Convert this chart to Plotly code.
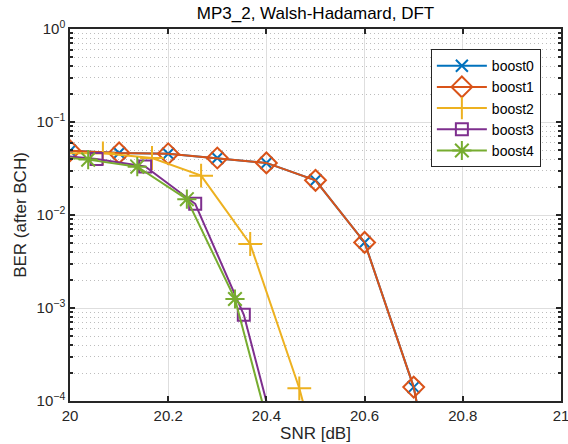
import plotly.graph_objects as go

# ---- data ----
names = ["boost0", "boost1", "boost2", "boost3", "boost4"]

boost0_x = [20.0, 20.1, 20.2, 20.3, 20.4, 20.5, 20.6, 20.7, 20.8]
boost0_y = [0.049, 0.0465, 0.0455, 0.041, 0.0363, 0.0236, 0.00507, 1.41e-4, 3e-7]

boost1_x = [20.0, 20.1, 20.2, 20.3, 20.4, 20.5, 20.6, 20.7, 20.8]
boost1_y = [0.049, 0.0465, 0.0455, 0.041, 0.0363, 0.0236, 0.00507, 1.41e-4, 3e-7]

boost2_x = [19.967, 20.067, 20.167, 20.267, 20.367, 20.467, 20.567]
boost2_y = [0.046, 0.046, 0.041, 0.0265, 0.00488, 1.37e-4, 1.5e-6]

boost3_x = [19.954, 20.054, 20.153, 20.255, 20.354, 20.454]
boost3_y = [0.045, 0.040, 0.0333, 0.0132, 8.45e-4, 8e-6]

boost4_x = [19.937, 20.037, 20.137, 20.238, 20.336, 20.437]
boost4_y = [0.044, 0.0394, 0.0331, 0.0148, 1.25e-3, 1.2e-5]

x_ticks = [20, 20.2, 20.4, 20.6, 20.8, 21]
x_tick_labels = ["20", "20.2", "20.4", "20.6", "20.8", "21"]
y_ticks = [1e-4, 1e-3, 1e-2, 1e-1, 1]
y_tick_labels = ["10<sup>−4</sup>", "10<sup>−3</sup>", "10<sup>−2</sup>", "10<sup>−1</sup>", "10<sup>0</sup>"]

title = "MP3_2, Walsh-Hadamard, DFT"
x_title = "SNR [dB]"
y_title = "BER (after BCH)"

# ---- styles ----
colors = ["#0072BD", "#D95319", "#EDB120", "#7E2F8E", "#77AC30"]
symbols = ["x-thin-open", "diamond-open", "cross-thin-open", "square-open", "asterisk-open"]
sizes = [12, 16, 17, 12, 16]

FONT = "Liberation Sans, Arial, sans-serif"
AX = "#262626"

series = [(boost0_x, boost0_y), (boost1_x, boost1_y), (boost2_x, boost2_y),
          (boost3_x, boost3_y), (boost4_x, boost4_y)]

fig = go.Figure()
for (xs, ys), n, c, s, sz in zip(series, names, colors, symbols, sizes):
    fig.add_trace(go.Scatter(
        x=xs, y=ys, name=n, mode="lines+markers",
        line=dict(color=c, width=2),
        marker=dict(symbol=s, size=sz, color=c, line=dict(color=c, width=2)),
        cliponaxis=True,
    ))

minor_vals = [m * 10 ** e for e in range(-4, 0) for m in range(2, 10)]

fig.update_layout(
    width=568, height=444,
    margin=dict(l=70, r=7, t=29, b=43),
    paper_bgcolor="white", plot_bgcolor="white",
    font=dict(family=FONT, size=15, color=AX),
    title=dict(text=title, x=(70 + 561) / 2 / 568, xanchor="center",
               y=1 - 13 / 444, yanchor="middle", font=dict(size=17, color="black")),
    showlegend=True,
    legend=dict(x=0.959, xanchor="right", y=0.946, yanchor="top",
                bgcolor="white", bordercolor=AX, borderwidth=1,
                font=dict(size=14, color="black"),
                tracegroupgap=0, itemwidth=50, entrywidth=125),
)

fig.update_xaxes(
    range=[20, 21], tickvals=x_ticks, ticktext=x_tick_labels,
    showgrid=True, gridcolor="#dedede", gridwidth=1,
    showline=True, linecolor=AX, linewidth=1.5, mirror="ticks",
    ticks="inside", ticklen=5, tickcolor=AX, tickwidth=1.5,
    zeroline=False, automargin=False, ticklabeloverflow="allow",
    title=dict(text=x_title, font=dict(size=17), standoff=2),
    tickfont=dict(size=15),
)

fig.update_yaxes(
    type="log", range=[-4, 0], tickvals=y_ticks, ticktext=y_tick_labels,
    showgrid=True, gridcolor="#dedede", gridwidth=1,
    showline=True, linecolor=AX, linewidth=1.5, mirror="ticks",
    ticks="inside", ticklen=5, tickcolor=AX, tickwidth=1.5,
    zeroline=False, automargin=False, ticklabeloverflow="allow",
    minor=dict(tickvals=minor_vals, ticks="inside", ticklen=3, tickcolor=AX,
               showgrid=True, gridcolor="#bdbdbd", griddash="1px,3px", gridwidth=1),
    title=dict(text=y_title, font=dict(size=17), standoff=6),
    tickfont=dict(size=15),
)

fig.write_html("out.html")
